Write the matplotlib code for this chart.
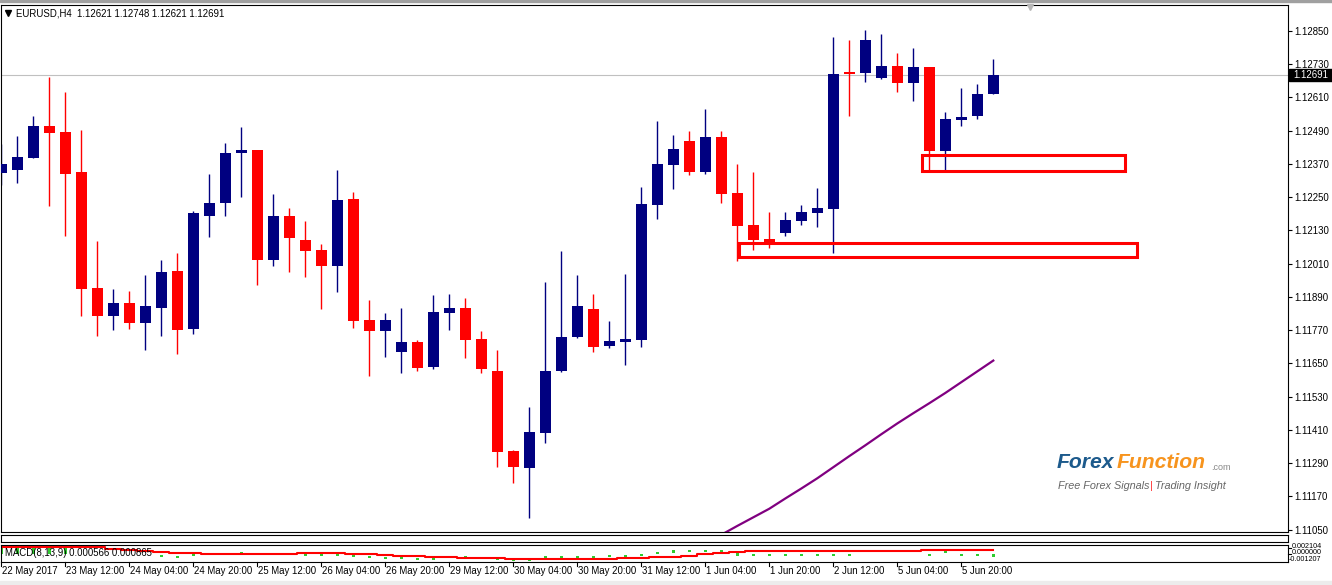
import numpy as np
import matplotlib.pyplot as plt
from matplotlib.patches import Rectangle
from matplotlib.lines import Line2D
from matplotlib.transforms import blended_transform_factory

plt.rcParams['font.family'] = ['Liberation Sans', 'DejaVu Sans']

# EURUSD H4 candles
opens = [1.12337, 1.12348, 1.12392, 1.12507, 1.12485, 1.12341, 1.11922, 1.11821, 1.11868, 1.11796,
         1.11850, 1.11984, 1.11774, 1.12182, 1.12229, 1.12410, 1.12420, 1.12023, 1.12182, 1.12096,
         1.12059, 1.12002, 1.12244, 1.11807, 1.11767, 1.11691, 1.11727, 1.11637, 1.11832, 1.11850,
         1.11738, 1.11623, 1.11334, 1.11272, 1.11399, 1.11623, 1.11745, 1.11846, 1.11713, 1.11727,
         1.11735, 1.12222, 1.12366, 1.12453, 1.12341, 1.12467, 1.12265, 1.12150, 1.12099, 1.12121,
         1.12164, 1.12193, 1.12207, 1.12702, 1.12698, 1.12680, 1.12724, 1.12662, 1.12720, 1.12417,
         1.12529, 1.12543, 1.12621]
highs = [1.12442, 1.12471, 1.12543, 1.12684, 1.12630, 1.12493, 1.12092, 1.11919, 1.11911, 1.11969,
         1.12023, 1.12049, 1.12200, 1.12334, 1.12446, 1.12503, 1.12422, 1.12262, 1.12211, 1.12164,
         1.12081, 1.12348, 1.12269, 1.11879, 1.11832, 1.11850, 1.11735, 1.11897, 1.11901, 1.11886,
         1.11767, 1.11698, 1.11337, 1.11493, 1.11944, 1.12056, 1.11969, 1.11901, 1.11803, 1.11973,
         1.12287, 1.12525, 1.12475, 1.12489, 1.12568, 1.12489, 1.12370, 1.12341, 1.12197, 1.12197,
         1.12222, 1.12283, 1.12828, 1.12818, 1.12854, 1.12839, 1.12771, 1.12789, 1.12720, 1.12558,
         1.12644, 1.12659, 1.12748]
lows = [1.12294, 1.12301, 1.12390, 1.12218, 1.12110, 1.11821, 1.11749, 1.11771, 1.11774, 1.11698,
        1.11749, 1.11684, 1.11756, 1.12106, 1.12182, 1.12251, 1.11933, 1.12002, 1.11980, 1.11962,
        1.11846, 1.11908, 1.11778, 1.11605, 1.11673, 1.11615, 1.11623, 1.11630, 1.11771, 1.11670,
        1.11615, 1.11276, 1.11218, 1.11092, 1.11363, 1.11619, 1.11742, 1.11691, 1.11706, 1.11644,
        1.11709, 1.12171, 1.12280, 1.12330, 1.12334, 1.12229, 1.12020, 1.12059, 1.12067, 1.12110,
        1.12150, 1.12142, 1.12049, 1.12543, 1.12666, 1.12677, 1.12630, 1.12597, 1.12348, 1.12348,
        1.12507, 1.12532, 1.12621]
closes = [1.12370, 1.12395, 1.12507, 1.12482, 1.12334, 1.11919, 1.11821, 1.11868, 1.11796, 1.11857,
          1.11980, 1.11771, 1.12193, 1.12229, 1.12410, 1.12420, 1.12023, 1.12182, 1.12103, 1.12056,
          1.12002, 1.12240, 1.11803, 1.11767, 1.11807, 1.11727, 1.11633, 1.11836, 1.11850, 1.11735,
          1.11630, 1.11330, 1.11276, 1.11402, 1.11623, 1.11745, 1.11857, 1.11709, 1.11731, 1.11738,
          1.12226, 1.12370, 1.12424, 1.12341, 1.12467, 1.12262, 1.12146, 1.12096, 1.12085, 1.12168,
          1.12197, 1.12211, 1.12695, 1.12695, 1.12818, 1.12724, 1.12662, 1.12720, 1.12417, 1.12532,
          1.12540, 1.12623, 1.12691]

# purple moving average, only visible for the last bars
ma_start = 45
ma_vals = [1.11031, 1.11063, 1.11094, 1.11125, 1.11162, 1.11198, 1.11235, 1.11275, 1.11315,
           1.11354, 1.11394, 1.11433, 1.11470, 1.11506, 1.11543, 1.11582, 1.11621, 1.11660]

# MACD(8,13,9) signal line and histogram marks
macd_signal = [0.00163, 0.00175, 0.00175, 0.00175, 0.00175, 0.00169, 0.00163, 0.00134, 0.00107, 0.00086,
               0.00072, 0.00045, 0.00039, 0.00018, 0.00018, 0.00018, 0.00018, 0.00018, 0.00024, 0.00039,
               0.00039, 0.00039, 0.00030, 0.00018, 0.00003, -0.00011, -0.00024, -0.00032, -0.00044, -0.00053,
               -0.00053, -0.00069, -0.00073, -0.00073, -0.00073, -0.00073, -0.00073, -0.00073, -0.00073, -0.00053,
               -0.00053, -0.00044, -0.00028, -0.00011, 0.00018, 0.00039, 0.00059, 0.00080, 0.00080, 0.00080,
               0.00080, 0.00080, 0.00080, 0.00080, 0.00080, 0.00080, 0.00080, 0.00080, 0.00101, 0.00101,
               0.00101, 0.00101, 0.00101]
hist_idx = [10, 11, 12, 14, 15, 19, 20, 21, 22, 23, 24, 25, 26, 27, 28, 29, 30, 31, 32, 33, 34, 35, 36,
            37, 38, 39, 40, 41, 42, 43, 44, 45, 46, 47, 48, 49, 50, 51, 52, 53, 54, 55, 56, 57, 58, 59,
            60, 61, 62]
hist_vals = [-0.00017, -0.00044, 0.00003, 0.00024, 0.00045, 0.00003, 0.00003, 0.00003, -0.00017, -0.00038,
             -0.00059, -0.00059, -0.00079, -0.00079, -0.00038, -0.00038, -0.00059, -0.00079, -0.00106, -0.00094,
             -0.00038, -0.00038, -0.00038, -0.00038, -0.00017, -0.00017, 0.00003, 0.00039, 0.00072, 0.00086,
             0.00092, 0.00086, 0.00018, 0.00003, 0.00003, 0.00003, 0.00003, 0.00003, 0.00003, 0.00003,
             0.00086, 0.00086, 0.00086, 0.00086, 0.00003, 0.00072, 0.00003, 0.00003, -0.00011]
hist_early = [0.00210, 0.00205, 0.00200, 0.00190, 0.00185]

# support zones drawn on the chart: (left bar, right bar, low, high)
zones = [(57.56, 70.26, 1.12344, 1.12401), (46.11, 70.95, 1.12033, 1.12084)]

price_ticks = [1.11050 + 0.0012 * i for i in range(16)]
macd_labels = ["0.002104", "0.000000", "-0.001207"]
date_labels = ["22 May 2017", "23 May 12:00", "24 May 04:00", "24 May 20:00", "25 May 12:00",
               "26 May 04:00", "26 May 20:00", "29 May 12:00", "30 May 04:00", "30 May 20:00",
               "31 May 12:00", "1 Jun 04:00", "1 Jun 20:00", "2 Jun 12:00", "5 Jun 04:00", "5 Jun 20:00"]

W, H = 1332, 585
fig = plt.figure(figsize=(W / 100, H / 100), dpi=100)
fig.patch.set_facecolor('white')


def px_axes(x0, y0, x1, y1):
    return fig.add_axes([x0 / W, 1 - y1 / H, (x1 - x0) / W, (y1 - y0) / H])


def px(x, y):
    return x / W, 1 - y / H


xlim = ((1 - 1.3) / 16, (1288 - 1.3) / 16)
fs = 6.9

ax = px_axes(1, 5, 1288, 532)
ax.set_xlim(*xlim)
ax.set_ylim(1.11041, 1.12944)
for s in ax.spines.values():
    s.set_linewidth(0.8)
    s.set_color('black')
ax.set_xticks([])
ax.yaxis.tick_right()
ax.set_yticks(price_ticks)
ax.set_yticklabels(['%.5f' % p for p in price_ticks])
ax.tick_params(axis='y', length=3, width=0.8, labelsize=fs, pad=1.5, direction='out')

o = np.array(opens)
h = np.array(highs)
l = np.array(lows)
c = np.array(closes)
x = np.arange(len(o))
cols = np.where(c >= o, '#000080', '#ff0000')

ax.axhline(c[-1], color='#c0c0c0', lw=0.8, zorder=1)
ax.vlines(x, l, h, colors=cols, lw=1.0, zorder=2)
body = np.maximum(np.abs(c - o), 0.00004)
ax.bar(x, body, bottom=np.minimum(o, c), width=0.69, color=cols, linewidth=0, zorder=3)

ax.plot(np.arange(ma_start, ma_start + len(ma_vals)), ma_vals, color='#800080', lw=1.6, zorder=4)

for x0, x1, y0, y1 in zones:
    ax.add_patch(Rectangle((x0, y0), x1 - x0, y1 - y0, fill=False, ec='#ff0000', lw=2.2, zorder=5))

# current price tag on the axis
tr = blended_transform_factory(ax.transAxes, ax.transData)
ax.add_patch(Rectangle((1.0005, c[-1] - 0.00021), 0.04, 0.00042, transform=tr, color='black',
                       clip_on=False, zorder=6))
ax.text(1.0038, c[-1], '%.5f' % c[-1], transform=tr, color='white', fontsize=fs, va='center',
        ha='left', clip_on=False, zorder=7)

# empty sub window and MACD window
sub = px_axes(1, 535, 1288, 542)
sub.set_xticks([])
sub.set_yticks([])
for s in sub.spines.values():
    s.set_linewidth(0.8)

ax2 = px_axes(1, 545, 1288, 562)
ax2.set_xlim(*xlim)
ax2.set_ylim(-0.001415, 0.002104)
ax2.set_xticks([])
ax2.set_yticks([])
for s in ax2.spines.values():
    s.set_linewidth(0.8)
ax2.bar(range(len(hist_early)), np.array(hist_early) - 0.00024, bottom=0.00024, width=0.18,
        color='#2fcc2f', linewidth=0)
ax2.bar(hist_idx, 0.0005, bottom=np.array(hist_vals) - 0.00025, width=0.18, color='#2fcc2f',
        linewidth=0)
ax2.plot(x, macd_signal, drawstyle='steps-mid', color='#ff0000', lw=1.5)

fig.text(*px(5, 553.5), "MACD(8,13,9) 0.000566 0.000865", fontsize=fs, va='center', ha='left')
# the window is too short for its scale, so the three labels are squeezed together
for lab, yy in zip(macd_labels, (546.5, 553, 559.5)):
    fig.text(*px(1292 if lab[0] != '-' else 1289, yy), lab, fontsize=5.2, va='center', ha='left')
for yy in (548, 554):
    fig.add_artist(Line2D([1288 / W, 1291 / W], [1 - yy / H] * 2, color='black', lw=0.8))

# time axis under the MACD window
for i, lab in enumerate(date_labels):
    xp = 1.3 + 64 * i
    fig.add_artist(Line2D([xp / W] * 2, [1 - 562 / H, 1 - 566 / H], color='black', lw=0.8))
    fig.text(*px(xp + 1, 571.5), lab, fontsize=fs, va='center', ha='left')

# header and window decorations
fig.add_artist(Rectangle((0, 1 - 2 / H), 1, 2 / H, transform=fig.transFigure, color='#a0a0a0'))
fig.add_artist(Rectangle((0, 0), 1, 4 / H, transform=fig.transFigure, color='#ececec'))
fig.add_artist(Line2D([7.7 / W], [1 - 12.8 / H], marker='v', color='black', markersize=4.5,
                      transform=fig.transFigure))
fig.add_artist(Line2D([1030 / W], [1 - 7 / H], marker='v', color='#b8b8b8', markersize=5,
                      transform=fig.transFigure))
fig.text(*px(16, 13), "EURUSD,H4  %.5f %.5f %.5f %.5f" % (o[-1], h[-1], l[-1], c[-1]),
         fontsize=fs, va='center', ha='left')

# watermark logo
fig.text(*px(1057, 462), "Forex", fontsize=15.2, weight='bold', style='italic', color='#1c5a8c',
         va='center', ha='left')
fig.text(*px(1117, 462), "Function", fontsize=15.2, weight='bold', style='italic', color='#f7941e',
         va='center', ha='left')
fig.text(*px(1211, 468), ".com", fontsize=6.5, color='#888888', va='center', ha='left')
fig.text(*px(1058, 486), "Free Forex Signals", fontsize=7.8, style='italic', color='#666666',
         va='center', ha='left')
fig.text(*px(1150, 486), "|", fontsize=7.8, color='#ff3333', va='center', ha='left')
fig.text(*px(1155, 486), "Trading Insight", fontsize=7.8, style='italic', color='#666666',
         va='center', ha='left')

fig.savefig("out.png", dpi=100)
plt.close(fig)
